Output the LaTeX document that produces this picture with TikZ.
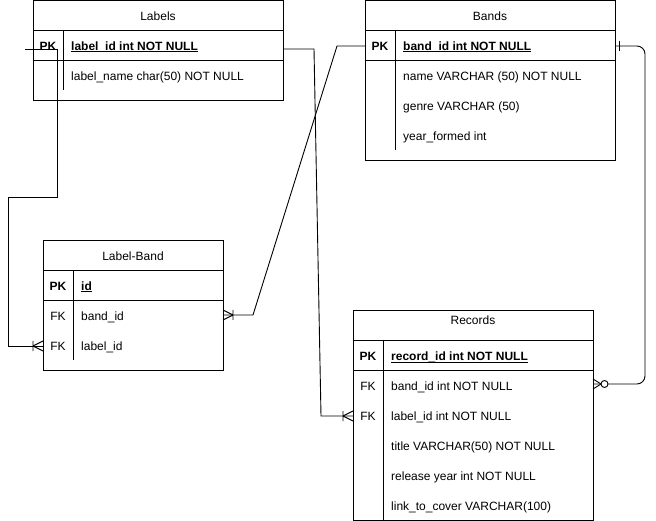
\documentclass[tikz,border=0pt]{standalone}
\usepackage{fontspec}
\setmainfont{Liberation Sans}

\newcommand{\keyul}[1]{\setbox0=\hbox{#1}\rlap{\rule[-1.6pt]{\wd0}{0.6pt}}\box0}

\tikzset{
	tbl/.style={draw, anchor=north west, inner sep=0pt, line width=0.9pt},
	fld/.style={anchor=base west, inner sep=0pt, yshift=-1.5pt, font=\fontsize{12}{14}\selectfont},
	ttl/.style={anchor=base, inner sep=0pt, yshift=-1.5pt, font=\fontsize{12}{14}\selectfont},
	pktag/.style={ttl, font=\fontsize{12}{14}\selectfont\bfseries},
	rel/.style={line width=0.9pt},
	onemany/.pic={\draw[rel] (-10,-5) -- (-10,5) (-10,0) -- (0,-5) (-10,0) -- (0,5);},
	zeromany/.pic={\draw[rel] (-8,0) -- (0,-5) (-8,0) -- (0,5);
		\draw[rel, fill=white] (-11.5,0) circle[radius=3.5pt];},
	onlyone/.pic={\draw[rel] (-4,-5) -- (-4,5);},
}

\begin{document}
\begin{tikzpicture}[x=1pt, y=-1pt]
	\useasboundingbox (0,0) rectangle (656,521);
	% Labels
	\node[tbl, minimum width=250pt, minimum height=100pt] (labels) at (33,0) {};
	\draw[rel] (33,30) -- (283,30) (33,60) -- (283,60) (63,30) -- (63,90);
	\node[ttl] (labelsttl) at (158,19) {Labels};
	\node[pktag] (labelspk) at (48,49) {PK};
	\node[fld, font=\fontsize{12}{14}\selectfont\bfseries] (labelid) at (71,49) {\keyul{label\_id int NOT NULL}};
	\node[fld] (labelname) at (71,79) {label\_name char(50) NOT NULL};
	% Bands
	\node[tbl, minimum width=250pt, minimum height=160pt] (bands) at (365,0) {};
	\draw[rel] (365,30) -- (615,30) (365,60) -- (615,60) (395,30) -- (395,150);
	\node[ttl] (bandsttl) at (490,19) {Bands};
	\node[pktag] (bandspk) at (380,49) {PK};
	\node[fld, font=\fontsize{12}{14}\selectfont\bfseries] (bandid) at (403,49) {\keyul{band\_id int NOT NULL}};
	\node[fld] (bandname) at (403,79) {name VARCHAR (50) NOT NULL};
	\node[fld] (bandgenre) at (403,109) {genre VARCHAR (50)};
	\node[fld] (bandyear) at (403,139) {year\_formed int};
	% Label-Band
	\node[tbl, minimum width=180pt, minimum height=130pt] (labelband) at (43,240) {};
	\draw[rel] (43,270) -- (223,270) (43,300) -- (223,300) (73,270) -- (73,360);
	\node[ttl] (lbttl) at (133,259) {Label-Band};
	\node[pktag] (lbpk) at (58,289) {PK};
	\node[fld, font=\fontsize{12}{14}\selectfont\bfseries] (lbid) at (81,289) {\keyul{id}};
	\node[ttl] (lbfk1) at (58,319) {FK};
	\node[fld] (lbband) at (81,319) {band\_id};
	\node[ttl] (lbfk2) at (58,349) {FK};
	\node[fld] (lblabel) at (81,349) {label\_id};
	% Records
	\node[tbl, minimum width=240pt, minimum height=210pt] (records) at (353,310) {};
	\draw[rel] (353,340) -- (593,340) (353,370) -- (593,370) (383,340) -- (383,520);
	\node[ttl] (recttl) at (473,323) {Records};
	\node[pktag] (recpk) at (368,359) {PK};
	\node[fld, font=\fontsize{12}{14}\selectfont\bfseries] (recid) at (391,359) {\keyul{record\_id int NOT NULL}};
	\node[ttl] (recfk1) at (368,389) {FK};
	\node[fld] (recband) at (391,389) {band\_id int NOT NULL};
	\node[ttl] (recfk2) at (368,419) {FK};
	\node[fld] (reclabel) at (391,419) {label\_id int NOT NULL};
	\node[fld] (rectitle) at (391,449) {title VARCHAR(50) NOT NULL};
	\node[fld] (recyear) at (391,479) {release year int NOT NULL};
	\node[fld] (reccover) at (391,509) {link\_to\_cover VARCHAR(100)};
	% row ends
	\coordinate (labelid-w) at (25,49);
	\coordinate (labelid-e) at (283,49);
	\coordinate (bandid-w) at (365,46);
	\coordinate (bandid-e) at (615,46);
	\coordinate (lbband-e) at (223,315);
	\coordinate (lblabel-w) at (43,346);
	\coordinate (recband-e) at (593,384);
	\coordinate (reclabel-w) at (353,416);
	% relations
	\draw[rel] (labelid-w) -- ++(32,0) -- ++(0,148) -- ++(-49,0) |- (lblabel-w);
	\draw[rel] (lbband-e) -- ++(30,0) -- ([xshift=-28pt]bandid-w) -- (bandid-w);
	\draw[rel] (labelid-e) -- ++(31,0) -- ([xshift=-32pt]reclabel-w) -- (reclabel-w);
	\draw[rel, rounded corners=8pt] (bandid-e) -- ++(30,0) |- (recband-e);
	\pic at (lblabel-w) {onemany};
	\pic[rotate=180] at (lbband-e) {onemany};
	\pic at (reclabel-w) {onemany};
	\pic[rotate=180] at (recband-e) {zeromany};
	\pic[rotate=180] at (bandid-e) {onlyone};
\end{tikzpicture}
\end{document}
